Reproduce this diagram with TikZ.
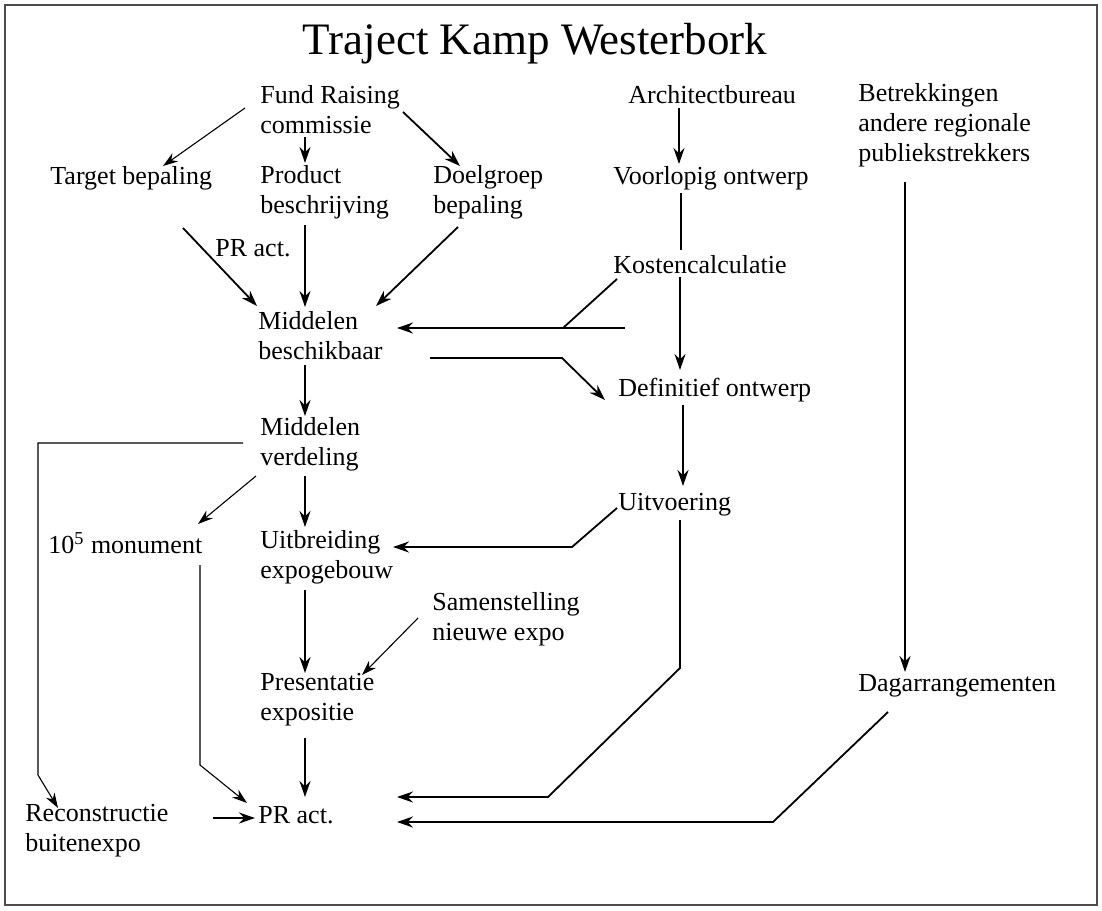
\documentclass[tikz,border=0pt]{standalone}
\usepackage{fontspec}
\setmainfont{Liberation Serif}
\usetikzlibrary{arrows.meta}

\begin{document}
\begin{tikzpicture}[x=0.5pt,y=-0.5pt]
	\tikzstyle{box}=[anchor=west,inner sep=0pt,align=left,font=\fontsize{13}{15}\selectfont]
	\tikzstyle{arr}=[-{Stealth[length=8pt,width=5.5pt]},line width=0.9pt]
	\tikzstyle{arrlight}=[-{Stealth[length=7.5pt,width=5pt]},line width=0.55pt]
	\tikzstyle{plain}=[line width=0.9pt]
	\useasboundingbox (0,0) rectangle (1102,910);
	\draw[black!70,line width=1pt] (5,5) rectangle (1097,905);
	\node[font=\fontsize{22.5}{27}\selectfont] (1) at (535,44) {Traject Kamp Westerbork};
	\node[box] (2) at (260,110) {Fund Raising\\commissie};
	\node[box] (3) at (628,95) {Architectbureau};
	\node[box] (4) at (858,125) {Betrekkingen\\andere regionale\\publiekstrekkers};
	\node[box] (5) at (50,178) {Target bepaling};
	\node[box] (6) at (260,192) {Product\\beschrijving};
	\node[box] (7) at (433,192) {Doelgroep\\bepaling};
	\node[box] (8) at (613,178) {Voorlopig ontwerp};
	\node[box] (9) at (215,248) {PR act.};
	\node[box] (10) at (613,265) {Kostencalculatie};
	\node[box] (11) at (258,336) {Middelen\\beschikbaar};
	\node[box] (12) at (618,390) {Definitief ontwerp};
	\node[box] (13) at (260,444) {Middelen\\verdeling};
	\node[box] (14) at (618,505) {Uitvoering};
	\node[box] (15) at (48,543) {10\textsuperscript{5} monument};
	\node[box] (16) at (260,557) {Uitbreiding\\expogebouw};
	\node[box] (17) at (432,619) {Samenstelling\\nieuwe expo};
	\node[box] (18) at (260,700) {Presentatie\\expositie};
	\node[box] (19) at (858,686) {Dagarrangementen};
	\node[box] (20) at (25,831) {Reconstructie\\buitenexpo};
	\node[box] (21) at (258,815) {PR act.};
	\coordinate (k1) at (563,328);
	\coordinate (k2) at (625,328);
	% fund raising
	\draw[arrlight] ([shift={(-15,-2)}]2.west) -- ([shift={(113,-12)}]5.west);
	\draw[arr] ([shift={(45,27)}]2.west) -- ([shift={(45,-29)}]6.west);
	\draw[arr] ([shift={(143,2)}]2.west) -- ([shift={(27,-26)}]7.west);
	\draw[arr] ([shift={(133,50)}]5.west) -- ([shift={(-1,-30)}]11.west);
	\draw[arr] ([shift={(45,33)}]6.west) -- ([shift={(47,-29)}]11.west);
	\draw[arr] ([shift={(25,35)}]7.west) -- ([shift={(118,-30)}]11.west);
	% architect
	\draw[arr] ([shift={(51,13)}]3.west) -- ([shift={(66,-14)}]8.west);
	\draw[plain] ([shift={(68,15)}]8.west) -- ([shift={(68,-15)}]10.west);
	\draw[arr] ([shift={(67,12)}]10.west) -- ([shift={(62,-20)}]12.west);
	\draw[plain] ([shift={(4,14)}]10.west) -- (k1);
	\draw[arr] (k2) -- ([shift={(139,-8)}]11.west);
	\draw[arr] ([shift={(172,22)}]11.west) -- (562,358) -- ([shift={(-13,10)}]12.west);
	\draw[arr] ([shift={(47,29)}]11.west) -- ([shift={(45,-28)}]13.west);
	\draw[arr] ([shift={(65,15)}]12.west) -- ([shift={(65,-19)}]14.west);
	\draw[arr] ([shift={(-1,3)}]14.west) -- (572,547) -- ([shift={(133,-10)}]16.west);
	% verdeling
	\draw[arrlight] ([shift={(-4,32)}]13.west) -- ([shift={(150,-19)}]15.west);
	\draw[arr] ([shift={(45,32)}]13.west) -- ([shift={(45,-30)}]16.west);
	\draw[arrlight] ([shift={(-17,-1)}]13.west) -- (38,443) -- (38,775) -- ([shift={(33,-23)}]20.west);
	\draw[arrlight] ([shift={(152,22)}]15.west) -- (200,765) -- ([shift={(-11,-12)}]21.west);
	\draw[arr] ([shift={(45,33)}]16.west) -- ([shift={(45,-27)}]18.west);
	\draw[arrlight] ([shift={(-14,-1)}]17.west) -- ([shift={(102,-25)}]18.west);
	\draw[arr] ([shift={(45,38)}]18.west) -- ([shift={(47,-18)}]21.west);
	\draw[arr] ([shift={(62,15)}]14.west) -- (680,668) -- (548,797) -- ([shift={(139,-18)}]21.west);
	% dagarrangementen
	\draw[arr] ([shift={(47,57)}]4.west) -- ([shift={(47,-14)}]19.west);
	\draw[arr] ([shift={(30,26)}]19.west) -- (773,822) -- ([shift={(139,7)}]21.west);
	\draw[arr] ([shift={(188,-13)}]20.west) -- ([shift={(-3,3)}]21.west);
\end{tikzpicture}
\end{document}
